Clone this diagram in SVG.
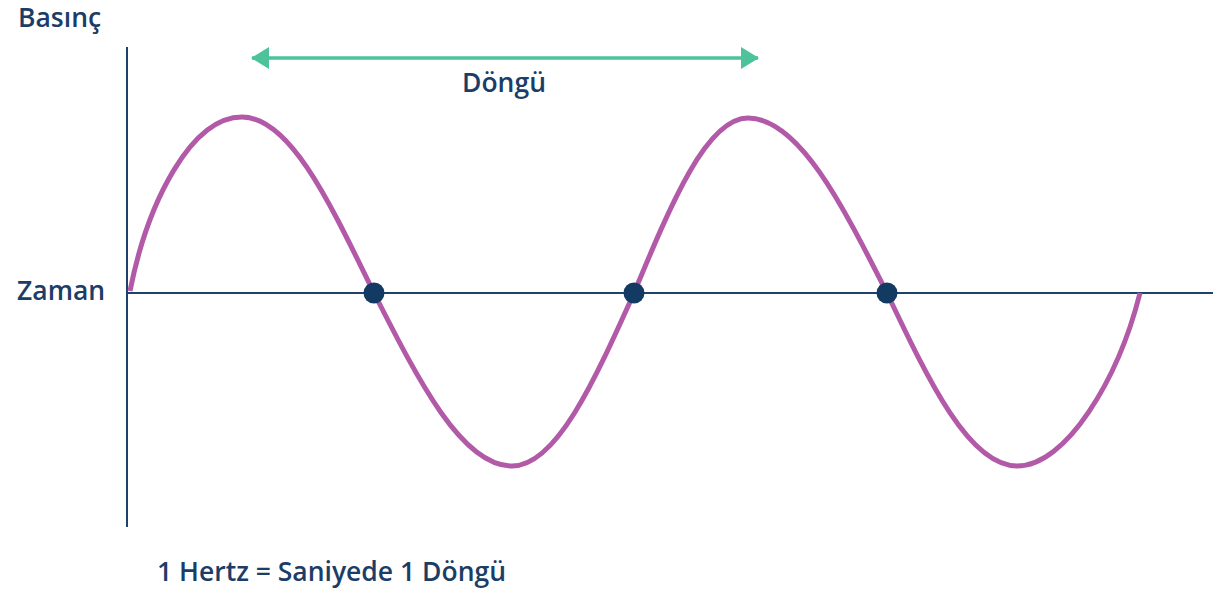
<svg xmlns="http://www.w3.org/2000/svg" width="1225" height="591" viewBox="0 0 1225 591">
<style>
.t{font-family:"Open Sans","Noto Sans",sans-serif;font-weight:600;font-size:26.5px;fill:#1b3d66}
.axis{stroke:#1f4368;stroke-width:2;fill:none}
.wave{stroke:#b25aa8;stroke-width:5;fill:none;stroke-linecap:butt}
.dot{fill:#133a62}
</style>
<defs>
<marker id="ah" viewBox="0 0 18 22" refX="17" refY="11" markerWidth="18" markerHeight="22" markerUnits="userSpaceOnUse" orient="auto-start-reverse">
<path d="M0,0 L18,11 L0,22 Z" fill="#4cc39b"/>
</marker>
</defs>
<rect width="1225" height="591" fill="#fff"/>
<g id="axes">
<line class="axis" x1="127" y1="47" x2="127" y2="527"/>
<line class="axis" x1="127" y1="293" x2="1213" y2="293"/>
</g>
<g id="wave">
<path class="wave" d="M130,291 C148,200 192,117 242,117 C290,117 330,203 374,293 C419,381.6 462,466 512,466 C556.2,466 594.2,381.6 634,293 C671.2,203.4 706.7,118 748,118 C798.3,118 841.7,203.4 887,293 C929,381.6 969.3,466 1017,466 C1066,466 1118,380 1140,293"/>
</g>
<g id="connectors">
<line x1="252" y1="58" x2="758" y2="58" stroke="#4cc39b" stroke-width="3.5" marker-start="url(#ah)" marker-end="url(#ah)"/>
</g>
<g id="dots">
<circle class="dot" cx="374" cy="293" r="10.5"/>
<circle class="dot" cx="634" cy="293" r="10.5"/>
<circle class="dot" cx="887" cy="293" r="10.5"/>
</g>
<g id="labels">
<text class="t" x="18" y="27">Basınç</text>
<text class="t" x="17" y="300">Zaman</text>
<text class="t" x="504" y="92" text-anchor="middle">Döngü</text>
<text class="t" x="157" y="581">1 Hertz = Saniyede 1 Döngü</text>
</g>
</svg>
